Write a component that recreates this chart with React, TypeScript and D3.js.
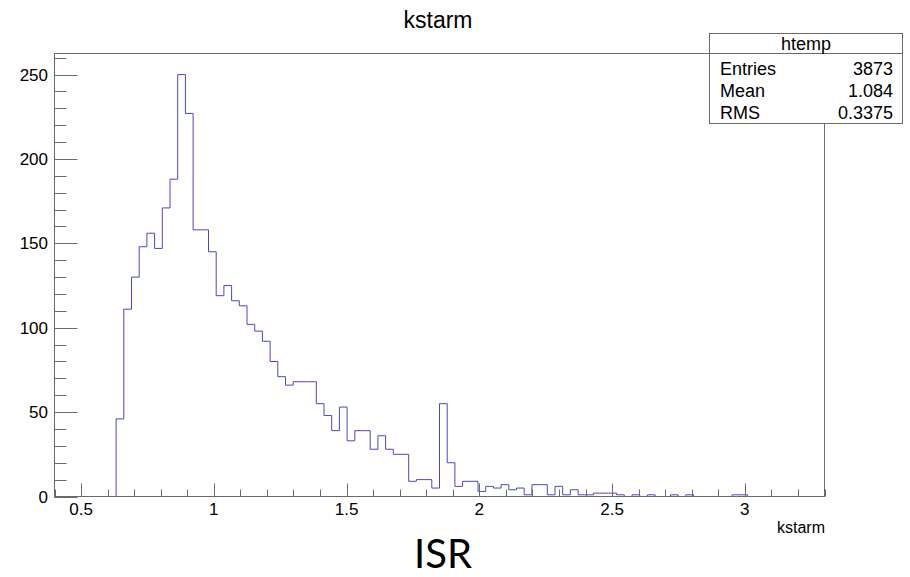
import React from "react";
import * as d3 from "d3";

// ---- data ----
const xMin = 0.4;
const xMax = 3.3;
const nBins = 100;
// bin contents for bins 0..99 (width 0.029)
const counts: number[] = [
  0, 0, 0, 0, 0, 0, 0, 0,
  46, 111, 130, 148, 156, 147, 171, 188, 250, 227,
  158, 158, 145, 119, 125, 116, 113, 102, 98, 92,
  80, 71, 66, 68, 68, 68, 55, 48, 39, 53,
  33, 39, 39, 28, 36, 28, 25, 25, 9, 10,
  10, 5, 55, 20, 6, 9, 9, 3, 6, 5,
  7, 4, 5, 1, 7, 7, 1, 6, 1, 4,
  1, 1, 2, 2, 2, 1, 0, 1, 0, 1,
  0, 0, 1, 0, 1, 0, 0, 0, 0, 0,
  1, 1, 0, 0, 0, 0, 0, 0, 0, 0,
];
const yMaxDomain = 262.5;
const yMajorTicks = [0, 50, 100, 150, 200, 250];
const yMinorTicks = d3.range(0, 261, 10);
const xMajorTicks = [0.5, 1, 1.5, 2, 2.5, 3];
const xMajorLabels = ["0.5", "1", "1.5", "2", "2.5", "3"];
const xMinorTicks = d3.range(4, 34).map((d) => d / 10);
const statLabels = ["Entries", "Mean", "RMS"];
const statValues = ["3873", "1.084", "0.3375"];
const histName = "htemp";
const title = "kstarm";
const xTitle = "kstarm";
const caption = "ISR";

const W = 910;
const H = 577;
const FONT = "'Liberation Sans', Arial, Helvetica, sans-serif";

export default function App() {
  const x = d3.scaleLinear().domain([xMin, xMax]).range([54.5, 824.5]);
  const y = d3.scaleLinear().domain([0, yMaxDomain]).range([496.5, 53.5]);
  const bw = (xMax - xMin) / nBins;

  const pts: [number, number][] = [[xMin, 0]];
  counts.forEach((c, i) => {
    const lo = xMin + i * bw;
    const hi = lo + bw;
    pts.push([lo, c]);
    pts.push([hi, c]);
  });
  pts.push([xMax, 0]);
  const line = d3
    .line<[number, number]>()
    .x((d) => x(d[0]))
    .y((d) => y(d[1]));

  const axisColor = "#6a6a6a";
  const [fx0, fx1] = x.range();
  const [fy0, fy1] = y.range();

  // stats box geometry
  const bx0 = 709.5, bx1 = 902.5, by0 = 33.5, by1 = 123.5, bsep = 53.5;

  return (
    <svg
      width={W}
      height={H}
      viewBox={`0 0 ${W} ${H}`}
      style={{ position: "absolute", left: 0, top: 0, background: "#fff" }}
    >
      <rect x={0} y={0} width={W} height={H} fill="#fff" />
      {/* title */}
      <text x={438} y={28} textAnchor="middle" fontFamily={FONT} fontSize={23} fill="#000">
        {title}
      </text>

      {/* histogram */}
      <path d={line(pts) || ""} fill="none" stroke="#4848c4" strokeWidth={1} />

      {/* frame */}
      <rect x={fx0} y={fy1} width={fx1 - fx0} height={fy0 - fy1} fill="none" stroke={axisColor} strokeWidth={1} />

      {/* y ticks */}
      {yMinorTicks.map((t) => (
        <line key={"ym" + t} x1={fx0} x2={fx0 + 12} y1={Math.round(y(t)) + 0.5} y2={Math.round(y(t)) + 0.5} stroke={axisColor} />
      ))}
      {yMajorTicks.map((t) => (
        <line key={"yM" + t} x1={fx0} x2={fx0 + 23} y1={Math.round(y(t)) + 0.5} y2={Math.round(y(t)) + 0.5} stroke={axisColor} />
      ))}
      {yMajorTicks.map((t) => (
        <text key={"yl" + t} x={48} y={y(t) + 6} textAnchor="end" fontFamily={FONT} fontSize={17} fill="#000">
          {t}
        </text>
      ))}

      {/* x ticks */}
      {xMinorTicks.map((t) => (
        <line key={"xm" + t} x1={Math.round(x(t)) + 0.5} x2={Math.round(x(t)) + 0.5} y1={fy0} y2={fy0 - 7} stroke={axisColor} />
      ))}
      {xMajorTicks.map((t) => (
        <line key={"xM" + t} x1={Math.round(x(t)) + 0.5} x2={Math.round(x(t)) + 0.5} y1={fy0} y2={fy0 - 13} stroke={axisColor} />
      ))}
      {xMajorTicks.map((t, i) => (
        <text key={"xl" + t} x={x(t)} y={515} textAnchor="middle" fontFamily={FONT} fontSize={17} fill="#000">
          {xMajorLabels[i]}
        </text>
      ))}
      <text x={825} y={533} textAnchor="end" fontFamily={FONT} fontSize={16} fill="#000">
        {xTitle}
      </text>

      {/* stats box */}
      <rect x={bx0} y={by0} width={bx1 - bx0} height={by1 - by0} fill="#fff" stroke={axisColor} />
      <line x1={bx0} x2={bx1} y1={bsep} y2={bsep} stroke={axisColor} />
      <text x={(bx0 + bx1) / 2} y={50} textAnchor="middle" fontFamily={FONT} fontSize={18} fill="#000">
        {histName}
      </text>
      {statLabels.map((l, i) => (
        <g key={l}>
          <text x={720} y={75 + i * 22} fontFamily={FONT} fontSize={18} fill="#000">
            {l}
          </text>
          <text x={893} y={75 + i * 22} textAnchor="end" fontFamily={FONT} fontSize={18} fill="#000">
            {statValues[i]}
          </text>
        </g>
      ))}

      {/* caption */}
      <text x={443} y={568} textAnchor="middle" fontFamily="Lato, 'Open Sans', sans-serif" fontSize={40} fill="#000">
        {caption}
      </text>
    </svg>
  );
}
